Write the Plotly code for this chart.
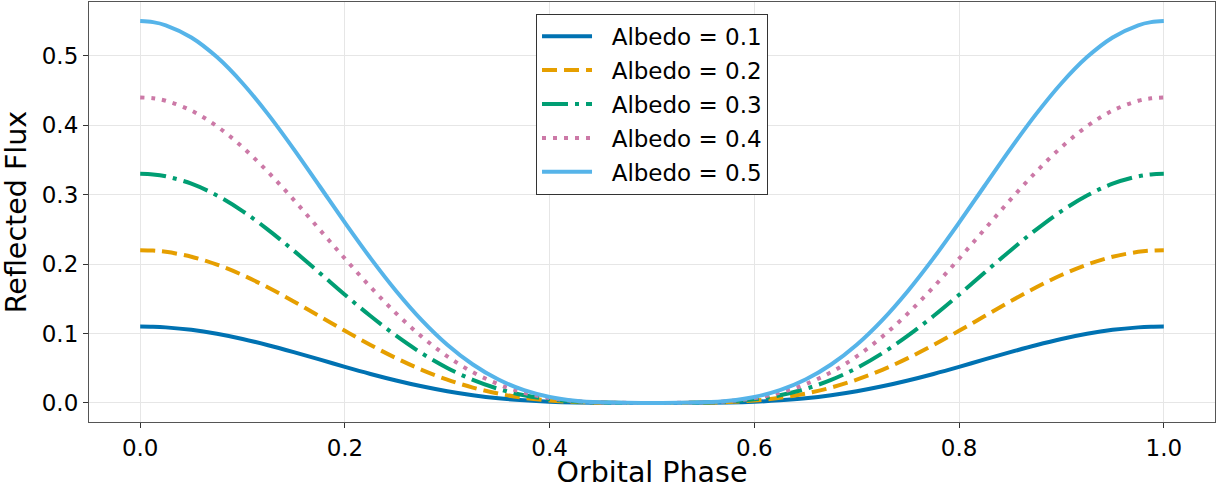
import plotly.graph_objects as go

phase = [0.0, 0.0125, 0.025, 0.05, 0.075, 0.1, 0.125, 0.15, 0.175, 0.2, 0.225, 0.25,
         0.275, 0.3, 0.325, 0.35, 0.375, 0.4, 0.425, 0.45, 0.475, 0.5,
         0.525, 0.55, 0.575, 0.6, 0.625, 0.65, 0.675, 0.7, 0.725, 0.75,
         0.775, 0.8, 0.825, 0.85, 0.875, 0.9, 0.925, 0.95, 0.975, 0.9875, 1.0]

flux_a01 = [0.1100, 0.1097, 0.1088, 0.1053, 0.0996, 0.0921, 0.0831, 0.0731, 0.0626, 0.0519, 0.0417, 0.0323,
            0.0239, 0.0168, 0.0111, 0.0067, 0.0037, 0.0017, 0.0006, 0.0002, 0.0000, 0.0000,
            0.0000, 0.0002, 0.0006, 0.0017, 0.0037, 0.0067, 0.0111, 0.0168, 0.0239, 0.0323,
            0.0417, 0.0519, 0.0626, 0.0731, 0.0831, 0.0921, 0.0996, 0.1053, 0.1088, 0.1097, 0.1100]
flux_a02 = [0.2200, 0.2194, 0.2176, 0.2106, 0.1992, 0.1842, 0.1662, 0.1462, 0.1251, 0.1039, 0.0834, 0.0645,
            0.0477, 0.0335, 0.0221, 0.0134, 0.0073, 0.0034, 0.0013, 0.0003, 0.0000, 0.0000,
            0.0000, 0.0003, 0.0013, 0.0034, 0.0073, 0.0134, 0.0221, 0.0335, 0.0477, 0.0645,
            0.0834, 0.1039, 0.1251, 0.1462, 0.1662, 0.1842, 0.1992, 0.2106, 0.2176, 0.2194, 0.2200]
flux_a03 = [0.3300, 0.3291, 0.3264, 0.3158, 0.2988, 0.2763, 0.2493, 0.2193, 0.1877, 0.1558, 0.1251, 0.0968,
            0.0716, 0.0503, 0.0332, 0.0202, 0.0110, 0.0052, 0.0019, 0.0005, 0.0000, 0.0000,
            0.0000, 0.0005, 0.0019, 0.0052, 0.0110, 0.0202, 0.0332, 0.0503, 0.0716, 0.0968,
            0.1251, 0.1558, 0.1877, 0.2193, 0.2493, 0.2763, 0.2988, 0.3158, 0.3264, 0.3291, 0.3300]
flux_a04 = [0.4400, 0.4388, 0.4352, 0.4211, 0.3985, 0.3684, 0.3325, 0.2925, 0.2502, 0.2078, 0.1669, 0.1290,
            0.0955, 0.0671, 0.0442, 0.0269, 0.0147, 0.0069, 0.0026, 0.0006, 0.0001, 0.0000,
            0.0001, 0.0006, 0.0026, 0.0069, 0.0147, 0.0269, 0.0442, 0.0671, 0.0955, 0.1290,
            0.1669, 0.2078, 0.2502, 0.2925, 0.3325, 0.3684, 0.3985, 0.4211, 0.4352, 0.4388, 0.4400]
flux_a05 = [0.5500, 0.5485, 0.5440, 0.5264, 0.4981, 0.4605, 0.4156, 0.3656, 0.3128, 0.2597, 0.2086, 0.1613,
            0.1193, 0.0838, 0.0553, 0.0336, 0.0183, 0.0086, 0.0032, 0.0008, 0.0001, 0.0000,
            0.0001, 0.0008, 0.0032, 0.0086, 0.0183, 0.0336, 0.0553, 0.0838, 0.1193, 0.1613,
            0.2086, 0.2597, 0.3128, 0.3656, 0.4156, 0.4605, 0.4981, 0.5264, 0.5440, 0.5485, 0.5500]

series_names = ["Albedo = 0.1", "Albedo = 0.2", "Albedo = 0.3", "Albedo = 0.4", "Albedo = 0.5"]
series_values = [flux_a01, flux_a02, flux_a03, flux_a04, flux_a05]
colors = ["#0072B2", "#E69F00", "#009E73", "#CC79A7", "#56B4E9"]
dashes = ["solid", "15px,7px", "26px,7px,4px,7px", "4px,7px", "solid"]

x_ticks = [0.0, 0.2, 0.4, 0.6, 0.8, 1.0]
y_ticks = [0.0, 0.1, 0.2, 0.3, 0.4, 0.5]

fig = go.Figure()
for i, (name, vals) in enumerate(zip(series_names, series_values)):
    fig.add_trace(go.Scatter(
        x=phase, y=vals, mode="lines", name="\u00a0\u00a0" + name, legendgroup=f"g{i}",
        line=dict(color=colors[i], width=4, dash=dashes[i], shape="spline", smoothing=1.0),
    ))

font_family = "DejaVu Sans, sans-serif"
axis_common = dict(
    showline=True, linecolor="#555555", linewidth=1.2, mirror=True,
    showgrid=True, gridcolor="#e6e6e6", gridwidth=1,
    ticks="outside", ticklen=5, tickcolor="#333333", tickwidth=1.2,
    zeroline=False, tickfont=dict(size=23, color="black", family=font_family),
)

fig.update_layout(
    width=1224, height=489,
    margin=dict(l=88.5, r=9, t=2, b=67, autoexpand=False),
    paper_bgcolor="white", plot_bgcolor="white",
    font=dict(family=font_family, color="black"),
    xaxis=dict(range=[-0.05, 1.05], tickvals=x_ticks, ticktext=[f"{v:.1f}" for v in x_ticks],
               title=dict(text="Orbital Phase", font=dict(size=28.5), standoff=2), **axis_common),
    yaxis=dict(range=[-0.0275, 0.5775], tickvals=y_ticks, ticktext=[f"{v:.1f}" for v in y_ticks],
               title=dict(text="Reflected Flux", font=dict(size=28.5), standoff=8), **axis_common),
    legend=dict(
        x=0.397, y=0.972, xanchor="left", yanchor="top",
        bgcolor="white", bordercolor="#333333", borderwidth=1,
        font=dict(size=23, family=font_family, color="black"),
        tracegroupgap=1, itemwidth=50,
    ),
    showlegend=True,
)

fig.write_html("out.html")
